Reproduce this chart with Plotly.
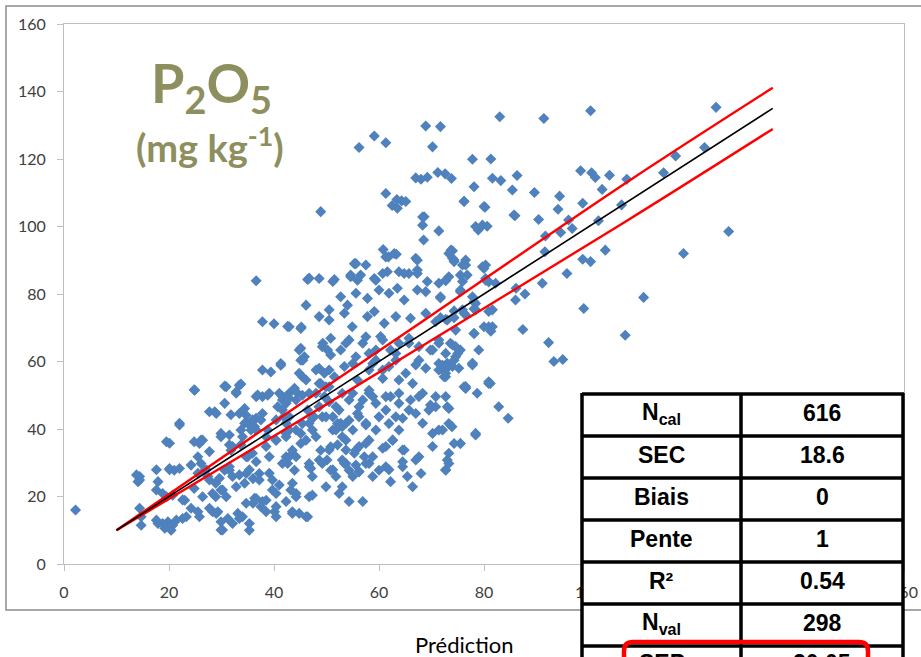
import plotly.graph_objects as go

# ---------------- data ----------------
pts = [
# upper-left area
(36.6,83.9),(48.9,104.4),(56.2,123.4),(59.1,126.8),(61.3,124.8),(68.9,129.8),(71.7,129.6),(70.2,123.6),
(61.3,109.8),(62.5,106.2),(63.4,108),(64.3,107.6),(67,114.4),(68,114),(69.2,114.6),(71.2,116),(72.6,115.6),
(73.8,114.2),(68.3,102.8),(68.3,100.4),(68.5,96),(71.4,98.7),(73.7,93),(74,90.6),(60.8,93.2),(61.8,91),
(63.3,91.8),(67,90.6),(55.3,89),(57.5,88.6),(46.7,84.7),(48.6,84.6),(51.5,84.3),(46.1,76.7),(37.8,71.8),
(40,71.2),(42.6,70.4),(45.2,70.2),
# upper-right area
(83,132.5),(91.4,132),(100.3,134.3),(124.2,135.3),(77.8,119.9),(81.3,120),(81.6,114.3),(83.2,113.6),
(86.3,115.1),(78.1,111.8),(85.4,110.8),(89.6,110.1),(98.4,116.5),(100.5,115.9),(101.2,114.5),(103.9,115.2),
(107.2,114),(102.5,111),(94.4,109),(98.8,106.9),(76.2,107.5),(80.2,105.7),(94.1,105.1),(85.9,103.2),
(90.4,102.1),(78.9,99),(79.7,100.4),(80.6,100.1),(96.1,101.9),(96.8,99.4),(94.6,98.2),(101.8,101.7),
(106.2,106.4),(114.2,115.9),(116.5,120.9),(122,123.4),(126.6,98.5),(91.7,97.2),(91.6,92.5),(103.1,93),
(98.8,90.3),(100.3,89.6),(95.8,86.1),(91.1,83.2),(86.1,81.7),(86,78.2),(87.8,80),(99,75.7),(110.4,79),
(118,92),(106.9,67.8),(87.4,69.5),(92.3,65.6),(93.3,60),(95,60.6),(74,92.8),(74.3,90.1),(75.9,88.6),
(76.5,90.1),(72.7,83.9),(76.8,85.6),(80,87.6),(80.3,84.6),(80.9,83.6),(75.5,81.2),(77.8,79.2),(78.1,77.7),
(78.4,75.3),(71.7,78.8),(71.7,73),(72.7,72.5),(74.3,75),(74.3,73),(75.9,75.3),(76.5,73.8),(78.1,75.6),
(80.9,74.8),(80,70.3),(81.3,69),(81.6,70.3),(78.1,68.3),(71.4,65.4),(72.7,62.4),(73.6,65.4),(74.6,64.4),
(75,62.4),(74.3,60.4),(73,59.5),(72.1,58.9),(71.4,57.5),(75.2,58),(72.4,55.5),(77.8,59),(75.2,63.4),
(77.8,59.5),(76.5,52),(81.2,53.5),(82.8,46.6),(84.6,43.2),(78.4,38.2),(75.5,35.7),(76.5,52.5),(73.3,46.1),
# upper-middle
(63.5,105.4),(65.1,107.4),(76.2,107.4),(80,105.9),(85.7,103.4),(68.6,102.9),(78.4,100),(54.6,85.6),
(55.9,84.1),(59.1,84.6),(60.7,86.1),(63.8,86.6),(65.7,86.1),(67.3,87.1),(69.2,83.7),(72.7,84.1),
(75.9,83.7),(79.7,88.1),(80.3,84.1),
# core
(55.6,89),(61.3,91),(62.9,92),(67.3,90),(73.3,92),(74.3,89.6),(76.5,88.6),(80.3,88.6),
(46.4,84.3),(51.2,83.7),(54.6,85.1),(56.5,85.6),(59.4,84.1),(61.6,86.6),(64.8,86.1),(67.3,86.1),
(71.4,83.2),(73.3,85.1),(75.5,85.6),
(50.5,75.3),(52.7,79.2),(54,76.7),(55.6,80.2),(57.8,78.7),(60,81.2),(61.9,80.2),(63.5,81.7),(64.8,78.2),
(67.3,81.2),(68.9,80.7),(71.7,79.2),(75.5,80.7),(78.4,77.2),(80.6,84.1),(82.2,83.2),
(42.9,70.3),(45.1,69.8),(48.6,73.3),(50.5,72.3),(53.4,74.3),(54.9,70.3),(57.8,73.3),(59.1,74.8),(61,71.3),
(63.2,73.3),(66,72.8),(68.9,74.3),(70.8,71.8),(73,72.3),(74.6,69.3),(76.2,74.3),(78.1,68.3),(80.9,70.3),
(81.6,75.3),
(41.3,59.4),(44.8,63.4),(45.1,60.4),(49.2,64.4),(50.8,66.9),(52.7,63.4),(54.3,66.4),(56.9,65.4),(58.1,62.4),
(60.3,67.4),(62.2,63.4),(63.8,65.4),(65.7,66.9),(67.6,64.4),(69.8,63.4),(71.4,66.4),(74,64.9),(75.5,63.4),
(77.8,59.4),(79,63.4),
(45.4,55.5),(48,57.5),(49.9,52.5),(51.5,55.5),(53.4,58.5),(55,59.4),(55.9,54.5),(58.1,57.5),(59.4,60.4),
(60.7,55),(61.9,58.5),(63.2,60.4),(65.1,56.5),(67,59),(68.9,58),(71.4,59.4),(72.7,55.5),(74,58.5),
(76.5,52.5),(80.9,53.5),
(41.6,49.6),(44.2,48.6),(46.7,50.6),(48.6,46.6),(50.5,48.1),(52.4,45.6),(54.3,48.6),(56.2,46.6),(58.1,50.6),
(59.4,47.6),(61.3,45.6),(62.2,49.6),(63.8,50.6),(66,48.6),(68.3,50.6),(69.8,47.1),(72.7,49.6),(76.2,52.5),
(78.7,50.6),
(42.9,43.6),(45.4,41.6),(47.3,43.2),(49.9,43.6),(52.1,41.6),(54.3,42.6),(55.9,44.6),(57.5,41.2),(60,43.6),
(61.9,41.6),(64.5,43.2),(67,44.6),(70.8,46.6),(71.4,39.7),(73.3,41.6),(78.4,38.7),
(42.3,37.7),(45.1,35.7),(48,37.7),(50.5,33.8),(53.7,36.7),(55.6,33.8),(58.1,36.7),(60.7,34.3),(62.6,36.7),
(64.5,33.8),(67.6,31.8),(70.2,34.8),(73,30.8),(75.5,35.7),
(42.9,31.8),(46.7,29.8),(48.6,30.8),(51.2,27.9),(53.7,29.8),(56.2,27.4),(57.5,29.8),(61.9,27.9),(64.5,28.8),
(67,30.8),(72.7,27.9),(73.3,32.8),(80.9,54),
# lower area
(2.2,16),(14.4,25.9),(14.1,24.4),(14.7,11.5),(17.6,27.9),(17.9,24.4),(17.6,21.9),(17.9,12),(19.8,12.5),
(20.4,10),(20.7,11.5),(19.5,19.9),(20.7,20.4),(19.5,36.2),(20.1,28.3),(21,27.8),(22,41.2),(22.6,19),
(22.6,13.5),(24.2,16.5),(24.9,51.5),(25.8,35.7),(26.1,36.7),(25.5,31.8),(26.1,29.8),(25.8,14),(26.8,27.8),
(27.4,25.9),(27.7,45.1),(28.7,45.1),(28.9,23.9),(28.9,19.9),(29.9,21.9),(28.3,15.5),(29.3,15.5),(29.9,10.1),
(30.9,52.5),(32.8,51),(33.4,53),(29.9,37.7),(31.5,35.3),(31.8,33.7),(30.6,27.8),(31.5,27.8),(32.1,25.9),
(30.9,19.9),(31.2,13.5),(32.1,12),(33.1,15),(33.4,13.5),(35.3,12),(34.4,46.1),(34.7,44.1),(35,41.7),
(35.6,39.7),(36.3,40.7),(33.7,39.7),(34,37.7),(35.9,32.8),(36.6,30.3),(35,31.8),(34.7,26.8),(34.4,23.9),
(36,25.3),(37.2,26.8),(36.3,19.5),(36,18),(37.5,17),(37.8,18.5),(36.9,50.1),(37.8,49.6),(39.1,50.6),
(36.6,43.2),(37.5,42.7),(37.8,57.5),(39.4,56.9),(41.3,58.9),(38.5,34.8),(39.1,31.8),(40.4,36.7),(38.8,39.7),
(39.7,24.9),(39.7,21.9),(41,23.4),(40.1,15.5),(40.4,14),(40.7,46.6),(41.6,48.6),(42.3,47.6),(41.9,43.6),
(42.9,39.7),(42.3,41.7),(42.3,31.8),(42.6,29.8),(43.5,33.7),(43.9,27.8),(43.5,23.9),(43.2,21.9),(44.2,19.9),
(43.5,15.5),(44.8,15),(46.4,14),(42.9,50.6),(43.9,52.1),(44.5,50.6),(45.1,63.9),(45.5,60.4),(45.8,61.4),
(44.8,56.5),(46.1,54.5),(45.1,38.7),(46.1,36.7),(47.3,39.7),(47,28.3),(47.3,25.9),(47.3,20.4),(46.4,45.6),
(47.6,43.6),(48.6,46.6),(48,50.6),(48.9,53.5),(49.6,49.6),(48.6,58),(49.6,56.5),(50.5,57.5),(48.9,33.7),
(50.1,30.8),(50.8,34.7),(49.3,65.4),(50.8,61.9),(50.2,63.4),(51.2,43.6),(51.8,46.6),(52.7,41.7),(51.2,39.7),
(53,37.7),(52.1,35.3),(50.8,27.8),(51.8,25.9),(53.4,29.8),(53,22.9),(54.3,18.5),(56.9,18.5),(54.3,27.8),
(55,25.9),(55.6,29.3),(56.2,27.3),(53.7,33.8),(55.3,32.8),(56.2,34.8),(57.2,31.8),(53.7,41.7),(55,39.7),
(56.2,43.6),(57.5,41.7),(55,50.6),(56.9,48.6),(58.1,51.5),(58.8,49.6),(53.7,65.4),(55.6,61.4),(57.5,67.3),
(59.4,63.4),(58.8,59.4),(60.7,57.5),(57.5,35.7),(58.8,31.8),(60,27.8),(58.8,25.9),(58.1,29.8),(59.4,39.7),
(61.3,28.8),(62.2,24.4),(64.5,30.3),(65.4,25.9),(66.4,22.9),(61.3,34.8),(62.6,36.7),(63.8,39.7),(64.8,33.8),
(63.2,43.6),(65.7,45.6),(61.3,49.6),(63.8,47.6),(66.4,53.5),(63.8,54.5),(67.6,49.6),(60.7,66.4),(63.2,62.4),
(65.7,65.4),(67.6,60.4),(70.2,63.4),(72.1,57.5),(68,26.8),(68.3,41.7),(69.5,45.6),(70.2,38.7),(70.8,49.6),
(73,46.6),(72.7,27.8),(73.3,29.8),(73.9,40.7),(72.1,39.7),(74.3,35.7),(72.7,56.5),(73.3,58.5),(74.6,61.4),
# lower-left
(24.8,51.6),(30.6,52.7),(33.7,53.3),(32.8,50.6),(36.6,49.6),(38.8,50),(41,50.6),(42.9,49.1),(45.4,50),
(48.6,53.5),(50.5,52.5),(53,50.6),(22,41.7),(29,44.6),(30.6,47.6),(31.8,44.2),(33.4,44.6),(34.4,41.7),
(35.9,42.7),(37.8,44.6),(40.4,42.7),(41.6,45.6),(20.1,35.8),(24.8,36.2),(26.4,36.7),(27.7,33.3),(29.9,38.7),
(31.5,38.2),(32.1,34.8),(33.7,35.3),(34.7,31.8),(36.6,39.7),(38.5,37.7),(40.4,36.7),(42.3,38.7),(44.2,39.7),
(46.7,41.7),(49.2,43.6),(51.8,39.7),(53,40.7),(13.8,26.4),(14.4,24.9),(20.1,27.9),(22,28.3),(24.2,29.3),
(25.5,26.9),(27.1,27.9),(27.7,24.9),(29.6,25.4),(31.5,28.8),(33.4,26.4),(35.3,27.9),(37.2,24.9),(39.1,26.9),
(41.6,29.8),(44.2,31.8),(46.7,28.8),(49.2,29.8),(53,30.8),(18.8,20.9),(23,18.9),(24.8,22.4),(26.4,19.9),
(28.3,20.9),(30.2,21.9),(32.8,22.9),(34.7,18),(36.6,19.4),(38.5,18.9),(40.4,20.9),(42.3,18.5),(44.2,20.9),
(46.7,19.9),(49.9,22.9),(52.4,20.9),(14.4,16.5),(14.7,14),(17.6,13),(18.8,12),(20.1,11.5),(21.4,13),
(19.2,10.6),(23.3,14),(25.5,15.5),(27.7,16.5),(29,15),(29.9,12.5),(34,14),(35.3,10),(38.5,15.5),(40.4,17),
(43.5,15),(46.1,14),(30.2,10.1),
]
pred = [p[0] for p in pts]
meas = [p[1] for p in pts]

line_x = [10, 135]
line_y = [10, 135]
band_x = [10, 40, 70, 107, 135]
band_upper = [10, 42.1, 73.7, 112.9, 141.1]
band_lower = [10, 37.9, 66.3, 101.5, 128.9]

x_ticks = [0, 20, 40, 60, 80, 100, 120, 140, 160]
y_ticks = [0, 20, 40, 60, 80, 100, 120, 140, 160]

table_labels = ["N<sub>cal</sub>", "SEC", "Biais", "Pente", "R²", "N<sub>val</sub>", "SEP"]
table_values = ["616", "18.6", "0", "1", "0.54", "298", "20.05"]

# ---------------- figure ----------------
W, H = 921, 657
L, R, T, B = 64, 17, 24, 93
PW, PH = W - L - R, H - T - B

def px(xp):  # pixel -> paper x
    return (xp - L) / PW

def py(yp):  # pixel -> paper y
    return (H - B - yp) / PH

fig = go.Figure()
fig.add_trace(go.Scatter(x=pred, y=meas, mode="markers",
                         marker=dict(symbol="diamond", size=8.5, color="#4F81BD", line=dict(width=0)),
                         showlegend=False, hoverinfo="skip"))
fig.add_trace(go.Scatter(x=band_x, y=band_upper, mode="lines", line=dict(color="#FF0000", width=2.4, shape="spline"),
                         showlegend=False, hoverinfo="skip"))
fig.add_trace(go.Scatter(x=band_x, y=band_lower, mode="lines", line=dict(color="#FF0000", width=2.4, shape="spline"),
                         showlegend=False, hoverinfo="skip"))
fig.add_trace(go.Scatter(x=line_x, y=line_y, mode="lines", line=dict(color="#000000", width=1.6),
                         showlegend=False, hoverinfo="skip"))

axis_common = dict(showgrid=False, zeroline=False, showline=True, linecolor="#BFBFBF", linewidth=1,
                   mirror=True, ticks="outside", ticklen=6, tickcolor="#BFBFBF", automargin=False,
                   tickfont=dict(family="Lato", size=16, color="#404040"))
fig.update_xaxes(range=[0, 160], tickvals=x_ticks, ticktext=[str(v) for v in x_ticks],
                 ticklabelstandoff=8, **axis_common)
fig.update_yaxes(range=[0, 160], tickvals=y_ticks, ticktext=[str(v) for v in y_ticks],
                 ticklabelstandoff=8, **axis_common)

shapes = []
# outer chart border
shapes.append(dict(type="rect", xref="paper", yref="paper", x0=px(6), x1=px(930), y0=py(610), y1=py(6),
                   line=dict(color="#8C8C8C", width=1.5), fillcolor="rgba(0,0,0,0)", layer="below"))

annotations = []
annotations.append(dict(xref="paper", yref="paper", x=px(464), y=py(644), text="Prédiction", showarrow=False,
                        font=dict(family="Lato", size=22, color="#000000"), xanchor="center", yanchor="middle"))
olive = "#8E8F5E"
annotations.append(dict(xref="paper", yref="paper", x=px(211), y=py(86), text="<b>P<sub>2</sub>O<sub>5</sub></b>",
                        showarrow=False, font=dict(family="Lato", size=54, color=olive),
                        xanchor="center", yanchor="middle"))
annotations.append(dict(xref="paper", yref="paper", x=px(210), y=py(145), text="<b>(mg kg<sup>-1</sup>)</b>",
                        showarrow=False, font=dict(family="Lato", size=38, color=olive),
                        xanchor="center", yanchor="middle"))

# table
tx0, tx1, tx2 = 582, 741, 903
row_top = 394
row_h = 42
nrows = len(table_labels)
shapes.append(dict(type="rect", xref="paper", yref="paper", x0=px(tx0), x1=px(tx2),
                   y0=py(row_top + row_h * nrows), y1=py(row_top),
                   line=dict(width=0), fillcolor="white", layer="above"))
for i in range(nrows + 1):
    yy = row_top + i * row_h
    shapes.append(dict(type="line", xref="paper", yref="paper", x0=px(tx0), x1=px(tx2 + 1), y0=py(yy), y1=py(yy),
                       line=dict(color="black", width=3.5), layer="above"))
for xx in (tx0, tx1, tx2):
    shapes.append(dict(type="line", xref="paper", yref="paper", x0=px(xx), x1=px(xx),
                       y0=py(row_top + row_h * nrows), y1=py(row_top - 1),
                       line=dict(color="black", width=3.5), layer="above"))
for i, (lab, val) in enumerate(zip(table_labels, table_values)):
    cy = row_top + i * row_h + row_h / 2 - 2
    if i == nrows - 1:
        cy -= 2
    annotations.append(dict(xref="paper", yref="paper", x=px((tx0 + tx1) / 2), y=py(cy), text="<b>%s</b>" % lab,
                            showarrow=False, font=dict(family="Liberation Sans", size=23, color="black"),
                            xanchor="center", yanchor="middle"))
    annotations.append(dict(xref="paper", yref="paper", x=px((tx1 + tx2) / 2), y=py(cy), text="<b>%s</b>" % val,
                            showarrow=False, font=dict(family="Liberation Sans", size=23, color="black"),
                            xanchor="center", yanchor="middle"))

# red rounded highlight box around last row
rx0, rx1, ry0, ry1, rr = 624, 868, 642, 700, 9
path = (f"M {px(rx0 + rr)},{py(ry0)} L {px(rx1 - rr)},{py(ry0)} "
        f"Q {px(rx1)},{py(ry0)} {px(rx1)},{py(ry0 + rr)} L {px(rx1)},{py(ry1 - rr)} "
        f"Q {px(rx1)},{py(ry1)} {px(rx1 - rr)},{py(ry1)} L {px(rx0 + rr)},{py(ry1)} "
        f"Q {px(rx0)},{py(ry1)} {px(rx0)},{py(ry1 - rr)} L {px(rx0)},{py(ry0 + rr)} "
        f"Q {px(rx0)},{py(ry0)} {px(rx0 + rr)},{py(ry0)} Z")
shapes.append(dict(type="path", xref="paper", yref="paper", path=path,
                   line=dict(color="#FF0000", width=4.5), layer="above"))

fig.update_layout(width=W, height=H, margin=dict(l=L, r=R, t=T, b=B, autoexpand=False),
                  plot_bgcolor="white", paper_bgcolor="white",
                  shapes=shapes, annotations=annotations, showlegend=False)

fig.write_html("out.html", config={"displayModeBar": False},
               post_script="document.body.style.margin='0px';document.body.style.overflow='hidden';")
